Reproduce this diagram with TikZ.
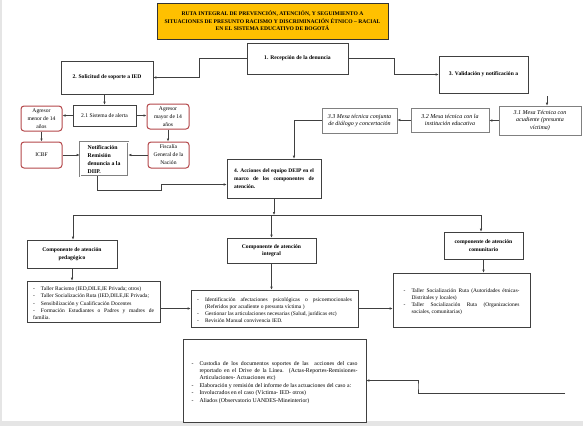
\documentclass[tikz,border=0pt]{standalone}
\usepackage{fontspec}
\setmainfont{Liberation Serif}
\usetikzlibrary{arrows.meta}

\definecolor{naranja}{HTML}{FFC000}
\definecolor{rojizo}{HTML}{B5484B}
\definecolor{borde}{HTML}{404040}

\newcommand{\chico}{\fontsize{5.6}{7.4}\selectfont}
\newcommand{\singuion}{\hyphenpenalty=10000\relax}
\newcommand{\listafont}{\fontsize{5.5}{7.2}\selectfont\singuion}
\newcommand{\guion}{\par\noindent\hangindent=8pt\hangafter=1\hbox to 8pt{-\hfil}}

\begin{document}
\begin{tikzpicture}[x=1pt, y=-1pt,
		caja/.style={draw=borde, line width=0.6pt, fill=white, align=center, inner sep=2pt, font=\chico},
		negrita/.style={caja, font=\chico\bfseries},
		agresor/.style={caja, draw=rojizo, line width=1pt, rounded corners=3pt, font=\fontsize{5.6}{8}\selectfont},
		mesa/.style={caja, draw=gray, font=\fontsize{6}{7.6}\selectfont\itshape},
		lista/.style={caja, align=justify, inner xsep=6pt, font=\listafont},
		flecha/.style={draw=borde, line width=0.6pt, -{Latex[length=3pt, width=2.6pt]}},
		linea/.style={draw=borde, line width=0.6pt}]
	\useasboundingbox (0,0) rectangle (583,426);
	\fill[gray!20] (0,0) rectangle (583,426);
	\fill[white] (2,0) rectangle (583,421);

	\node[negrita, fill=naranja, draw=borde!80!black, line width=0.8pt, minimum width=231pt, minimum height=36pt, font=\fontsize{5.6}{7.6}\selectfont\bfseries] (titulo) at (272.5,21)
		{RUTA INTEGRAL DE PREVENCIÓN, ATENCIÓN, Y SEGUIMIENTO A\\SITUACIONES DE PRESUNTO RACISMO Y DISCRIMINACIÓN ÉTNICO – RACIAL\\EN EL SISTEMA EDUCATIVO DE BOGOTÁ};

	\node[negrita, minimum width=101pt, minimum height=31pt] (recep) at (297.5,58.5) {1. Recepción de la denuncia};
	\node[negrita, minimum width=92pt, minimum height=33pt] (solic) at (107,77.5) {2. Solicitud de soporte a IED};
	\node[negrita, minimum width=89pt, minimum height=37pt] (valid) at (483.5,74.5) {3. Validación y notificación a};

	\node[mesa, minimum width=82pt, minimum height=29pt] (mesa1) at (540,120.5) {3.1 Mesa Técnica con\\acudiente (presunta\\víctima)};
	\node[mesa, minimum width=78pt, minimum height=24pt] (mesa2) at (450,120) {3.2 Mesa técnica con la\\institución educativa};
	\node[mesa, minimum width=75pt, minimum height=25pt] (mesa3) at (359.5,120.5) {3.3 Mesa técnica conjunta\\de diálogo y concertación};

	\node[caja, minimum width=63pt, minimum height=21pt] (alerta) at (104.5,115.5) {2.1 Sistema de alerta};
	\node[agresor, minimum width=41pt, minimum height=25pt] (menor) at (41.5,118.5) {Agresor\\menor de 14\\años};
	\node[agresor, minimum width=42pt, minimum height=25pt] (mayor) at (168,116.5) {Agresor\\mayor de 14\\años};
	\node[agresor, minimum width=41pt, minimum height=26pt] (icbf) at (41.5,155) {ICBF};
	\node[agresor, minimum width=41pt, minimum height=26pt] (fiscalia) at (168.5,155) {Fiscalía\\General de la\\Nación};
	\node[negrita, draw=gray, double=white, double distance=0.5pt, align=left, minimum width=48pt, minimum height=34pt, font=\fontsize{5.8}{8}\selectfont\bfseries] (notif) at (104,159)
		{Notificación\\Remisión\\denuncia a la\\DIIP.};

	\node[negrita, align=justify, text width=80pt, minimum width=94pt, minimum height=39pt, font=\fontsize{5.5}{7.8}\selectfont\bfseries\singuion] (acciones) at (274,178.5)
		{4. Acciones del equipo DEIP en el\linebreak marco de los componentes de\linebreak atención.};

	\node[negrita, minimum width=90pt, minimum height=28pt] (ped) at (72,254) {Componente de atención\\pedagógico};
	\node[negrita, minimum width=89pt, minimum height=25pt] (integ) at (271.5,250.5) {Componente de atención\\integral};
	\node[negrita, minimum width=79pt, minimum height=27pt] (comun) at (483.5,245.5) {componente de atención\\comunitario};

	\node[lista, text width=121pt, minimum width=133pt, minimum height=41pt] (pedlista) at (93.5,301.5)
		{\guion Taller Racismo (IED,DILE,IE Privada; otros)
		\guion Taller Socialización Ruta (IED,DILE,IE Privada;
		\guion Sensibilización y Cualificación Docentes
		\guion Formación Estudiantes o Padres y madres de familia.};
	\node[lista, text width=155pt, minimum width=167pt, minimum height=37pt] (intlista) at (274.5,308.5)
		{\guion Identificación afectaciones psicológicas o psicoemocionales (Referidos por acudiente o presunta víctima )
		\guion Gestionar las articulaciones necesarias (Salud, jurídicas etc)
		\guion Revisión Manual convivencia IED.};
	\node[lista, text width=116pt, minimum width=137pt, minimum height=54pt] (comlista) at (461.5,300)
		{\guion Taller Socialización Ruta (Autoridades étnicas-Distritales y locales)
		\guion Taller Socialización Ruta (Organizaciones sociales, comunitarias)\par\vspace{8pt}};
	\node[lista, text width=166pt, minimum width=183pt, minimum height=83pt, font=\fontsize{5.8}{7.4}\selectfont\singuion] (cierre) at (274.5,380.5)
		{\guion Custodia de los documentos soportes de las\ \ acciones del caso\linebreak reportado en el Drive de la Línea. (Actas-Reportes-Remisiones-\linebreak Articulaciones- Actuaciones etc)
		\guion Elaboración y remisión del informe de las actuaciones del caso a:
		\guion Involucrados en el caso (Víctima- IED- otros)
		\guion Aliados (Observatorio UANDES-Mineinterior)\par\vspace{16pt}};

	\draw[flecha] (recep.west) -- ++(-47,0) |- (solic.east);
	\draw[flecha] (recep.east) -- ++(46,0) |- (valid.west);
	\coordinate (bajada) at (547,96);
	\draw[flecha] (bajada) -- (bajada |- mesa1.north);
	\draw[flecha] (mesa1.west) -- (mesa1.west -| mesa2.east);
	\draw[flecha] (mesa2.west) -- (mesa2.west -| mesa3.east);
	\draw[flecha] (mesa3.west) -| ([xshift=20pt]acciones.north);

	\draw[flecha] (alerta.north |- solic.south) -- (alerta.north);
	\draw[flecha] (alerta.west) -- (alerta.west -| menor.east);
	\draw[flecha] (alerta.east) -- (alerta.east -| mayor.west);
	\draw[flecha] (menor) -- (icbf);
	\draw[flecha] (mayor.south) -- (mayor.south |- fiscalia.north);
	\draw[flecha] (icbf.east) -- (icbf.east -| notif.west);
	\draw[flecha] (fiscalia.west) -- (fiscalia.west -| notif.east);
	\draw[flecha] ([xshift=-7pt]notif.south) |- (161,190) |- ([yshift=-6pt]acciones.west);

	\coordinate (bizq) at (73,215);
	\coordinate (bder) at (481,215);
	\draw[flecha] (acciones.south) -- (acciones.south |- bizq);
	\draw[linea] (bizq) -- (bder);
	\draw[flecha] (bizq) -- (bizq |- ped.north);
	\draw[flecha] (integ.north |- bizq) -- (integ.north);
	\draw[flecha] (bder) -- (bder |- comun.north);

	\draw[flecha] (ped.south) -- (ped.south |- pedlista.north);
	\draw[flecha] (integ.south) -- (integ.south |- intlista.north);
	\draw[flecha] (comun.south) -- (comun.south |- comlista.north);
	\draw[flecha] (pedlista.east |- intlista.west) -- (intlista.west);
	\draw[flecha] (intlista.east) -- (intlista.east -| comlista.west);
	\coordinate (retorno) at (565,393);
	\draw[flecha] (retorno) -| (418,386) |- (cierre.east);
\end{tikzpicture}
\end{document}
